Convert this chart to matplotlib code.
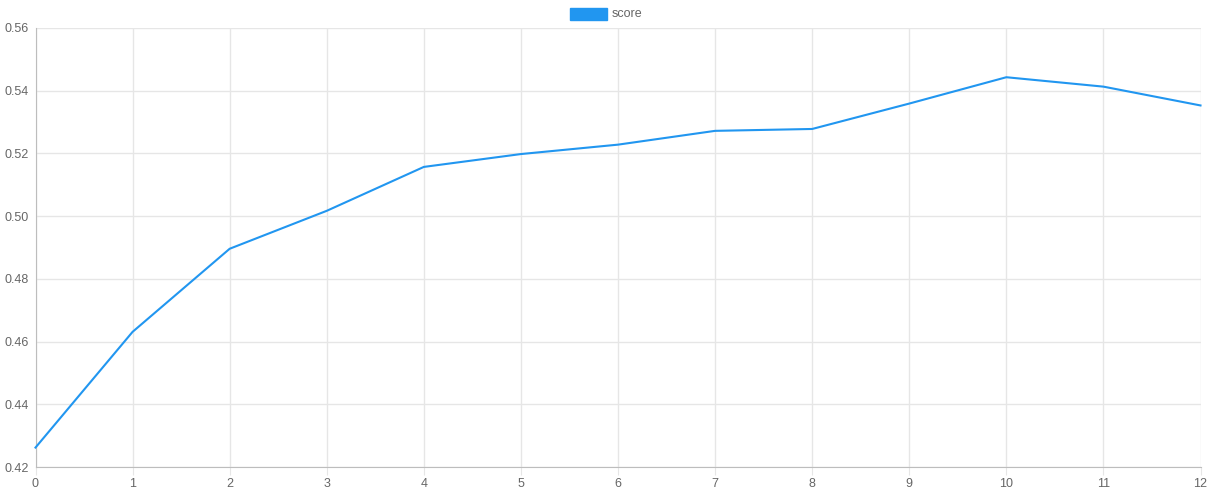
"""Score curve, Chart.js look."""

import matplotlib.pyplot as plt

plt.rcParams["font.family"] = ["Liberation Sans", "DejaVu Sans"]

steps = list(range(13))
score = [0.4262, 0.4631, 0.4896, 0.5017, 0.5157, 0.5198, 0.5228,
         0.5272, 0.5278, 0.5359, 0.5443, 0.5413, 0.5353]
y_ticks = [0.42, 0.44, 0.46, 0.48, 0.50, 0.52, 0.54, 0.56]

W, H = 1209, 494
fig = plt.figure(figsize=(W / 100, H / 100), dpi=100)
ax = fig.add_axes([35.5 / W, 27 / H, 1165 / W, 439 / H])

line_color = "#2196f0"
ax.plot(steps, score, color=line_color, lw=1.5, label="score", zorder=3,
        clip_on=False)

ax.set_xlim(0, 12)
ax.set_ylim(0.42, 0.56)
ax.set_xticks(steps)
ax.set_yticks(y_ticks)
ax.set_yticklabels([f"{v:.2f}" for v in y_ticks])

ax.grid(True, color="#e6e6e6", lw=1)
ax.set_axisbelow(True)
ax.tick_params(axis="y", length=0, labelcolor="#666666", labelsize=9, pad=5)
ax.tick_params(axis="x", length=6, color="#e6e6e6", labelcolor="#666666",
               labelsize=9, pad=2)
for side in ("top", "right"):
    ax.spines[side].set_visible(False)
for side in ("left", "bottom"):
    ax.spines[side].set_color("#bdbdbd")

# legend: filled box + label at top centre
fig.patches.append(plt.Rectangle((570 / W, 1 - 20 / H), 37 / W, 12 / H,
                                 transform=fig.transFigure,
                                 facecolor=line_color, edgecolor=line_color))
fig.text(612 / W, 1 - 14 / H, "score", color="#666666", fontsize=9,
         va="center", ha="left")

fig.savefig("out.png", dpi=100)
